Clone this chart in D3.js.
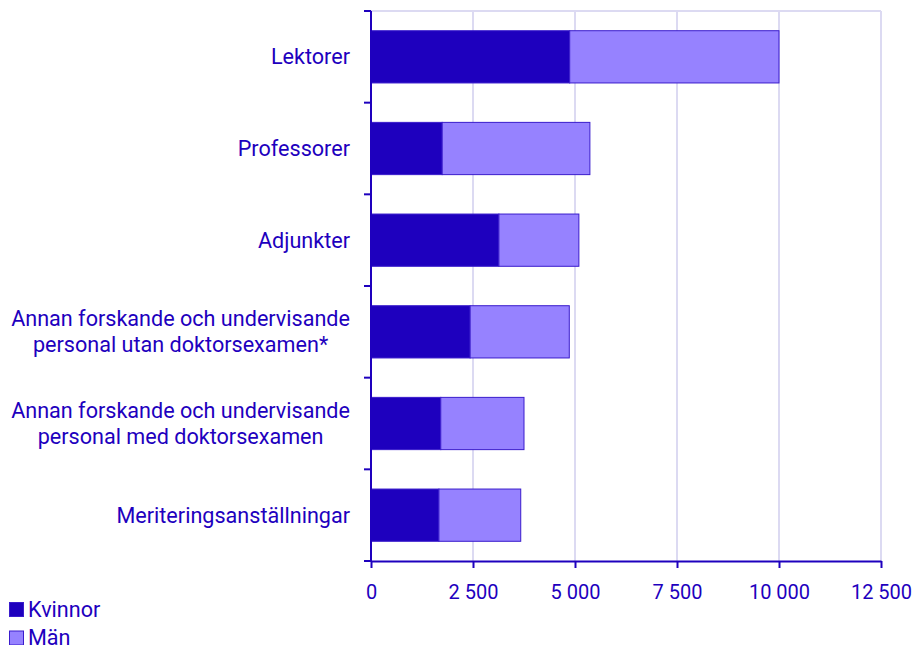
<!DOCTYPE html>
<html>
<head>
<meta charset="utf-8">
<script src="https://cdn.jsdelivr.net/npm/d3@7"></script>
<style>
  body { margin: 0; background: #fff; font-family: Roboto, "Noto Sans", sans-serif; }
</style>
</head>
<body>
<script>
const w = 915;
const h = 645;

// ----- DATA -----
const categories = [
  ["Lektorer"],
  ["Professorer"],
  ["Adjunkter"],
  ["Annan forskande och undervisande", "personal utan doktorsexamen*"],
  ["Annan forskande och undervisande", "personal med doktorsexamen"],
  ["Meriteringsanställningar"]
];
const kvinnor = [4870, 1745, 3135, 2430, 1710, 1665];
const man = [5130, 3620, 1960, 2430, 2040, 2005];
const seriesNames = ["Kvinnor", "Män"];
const seriesColors = ["#1e00be", "#9682ff"];
const xTicks = [0, 2500, 5000, 7500, 10000, 12500];

const textColor = "#1e00be";
const margin = {left: 371, right: 34, top: 11, bottom: 84};

const svg = d3.select("body").
append("svg").
attr("width", w).
attr("height", h);

const keys = categories.map(c => c.join(" "));

const x = d3.scaleLinear().
domain([0, 12500]).
range([margin.left, w - margin.right]);

const y = d3.scaleBand().
domain(keys).
range([margin.top, h - margin.bottom]).
paddingInner(0.43).
paddingOuter(0.215);

const se = d3.formatLocale({decimal: ",", thousands: " ", grouping: [3], currency: ["", " kr"]}).format(",d");

// ----- GRID -----
svg.append("g").
selectAll("line").
data(xTicks.slice(1)).
enter().
append("line").
attr("x1", d => x(d)).
attr("x2", d => x(d)).
attr("y1", margin.top).
attr("y2", h - margin.bottom).
attr("stroke", "#dcdaf2").
attr("stroke-width", 2);

svg.append("line").
attr("x1", margin.left).
attr("x2", x(12500)).
attr("y1", margin.top).
attr("y2", margin.top).
attr("stroke", "#dcdaf2").
attr("stroke-width", 2);

// ----- BARS -----
const rows = keys.map((k, i) => ({key: k, values: [kvinnor[i], man[i]]}));
const stack = d3.stack().keys([0, 1]).value((d, k) => d.values[k]);
const stacked = stack(rows);

svg.append("g").
selectAll("g").
data(stacked).
enter().
append("g").
attr("fill", (d, i) => seriesColors[i]).
selectAll("rect").
data(d => d).
enter().
append("rect").
attr("x", d => x(d[0])).
attr("width", d => x(d[1]) - x(d[0])).
attr("y", d => y(d.data.key)).
attr("height", y.bandwidth()).
attr("stroke", "#3a1ccc").
attr("stroke-width", 1);

// ----- AXES -----
const xAxis = svg.append("g").
attr("transform", `translate(0, ${h - margin.bottom})`).
call(d3.axisBottom(x).tickValues(xTicks).tickFormat(se).tickSize(7).tickSizeOuter(0));

xAxis.select(".domain").attr("stroke", textColor).attr("stroke-width", 2);
xAxis.selectAll(".tick line").attr("stroke", textColor).attr("stroke-width", 2);
xAxis.selectAll(".tick text").
attr("fill", textColor).
attr("font-size", 20).
attr("font-family", "Roboto").
attr("dy", "1.4em");

// y axis line with ticks at band edges
const yEdges = d3.range(keys.length + 1).map(i => margin.top + i * y.step());
svg.append("line").
attr("x1", margin.left).
attr("x2", margin.left).
attr("y1", margin.top).
attr("y2", h - margin.bottom).
attr("stroke", textColor).
attr("stroke-width", 2);

svg.append("g").
selectAll("line").
data(yEdges).
enter().
append("line").
attr("x1", margin.left - 7).
attr("x2", margin.left).
attr("y1", d => d).
attr("y2", d => d).
attr("stroke", textColor).
attr("stroke-width", 2);

// category labels: block right-aligned at 350, lines centered inside block
const labels = svg.append("g").
selectAll("text").
data(categories).
enter().
append("text").
attr("text-anchor", "middle").
attr("fill", textColor).
attr("font-size", 21.6).
attr("font-family", "Roboto");

labels.each(function (d, i) {
  const t = d3.select(this);
  const n = d.length;
  d.forEach((line, j) => {
    t.append("tspan").
    attr("x", 0).
    attr("y", (j - (n - 1) / 2) * 26).
    attr("dy", "0.35em").
    text(line);
  });
  const maxW = d3.max(t.selectAll("tspan").nodes(), s => s.getComputedTextLength());
  t.attr("transform", `translate(${350 - maxW / 2}, ${y(keys[i]) + y.bandwidth() / 2})`);
});

// ----- LEGEND -----
const legend = svg.append("g").attr("transform", "translate(9, 602)");
seriesNames.forEach((name, i) => {
  legend.append("rect").
  attr("x", 0.5).
  attr("y", i * 28.5 + 0.5).
  attr("width", 14).
  attr("height", 14).
  attr("fill", seriesColors[i]).
  attr("stroke", "#3a1ccc");
  legend.append("text").
  attr("x", 19).
  attr("y", i * 28.5 + 14.5).
  attr("fill", textColor).
  attr("font-size", 21.6).
  attr("font-family", "Roboto").
  text(name);
});
</script>
</body>
</html>
